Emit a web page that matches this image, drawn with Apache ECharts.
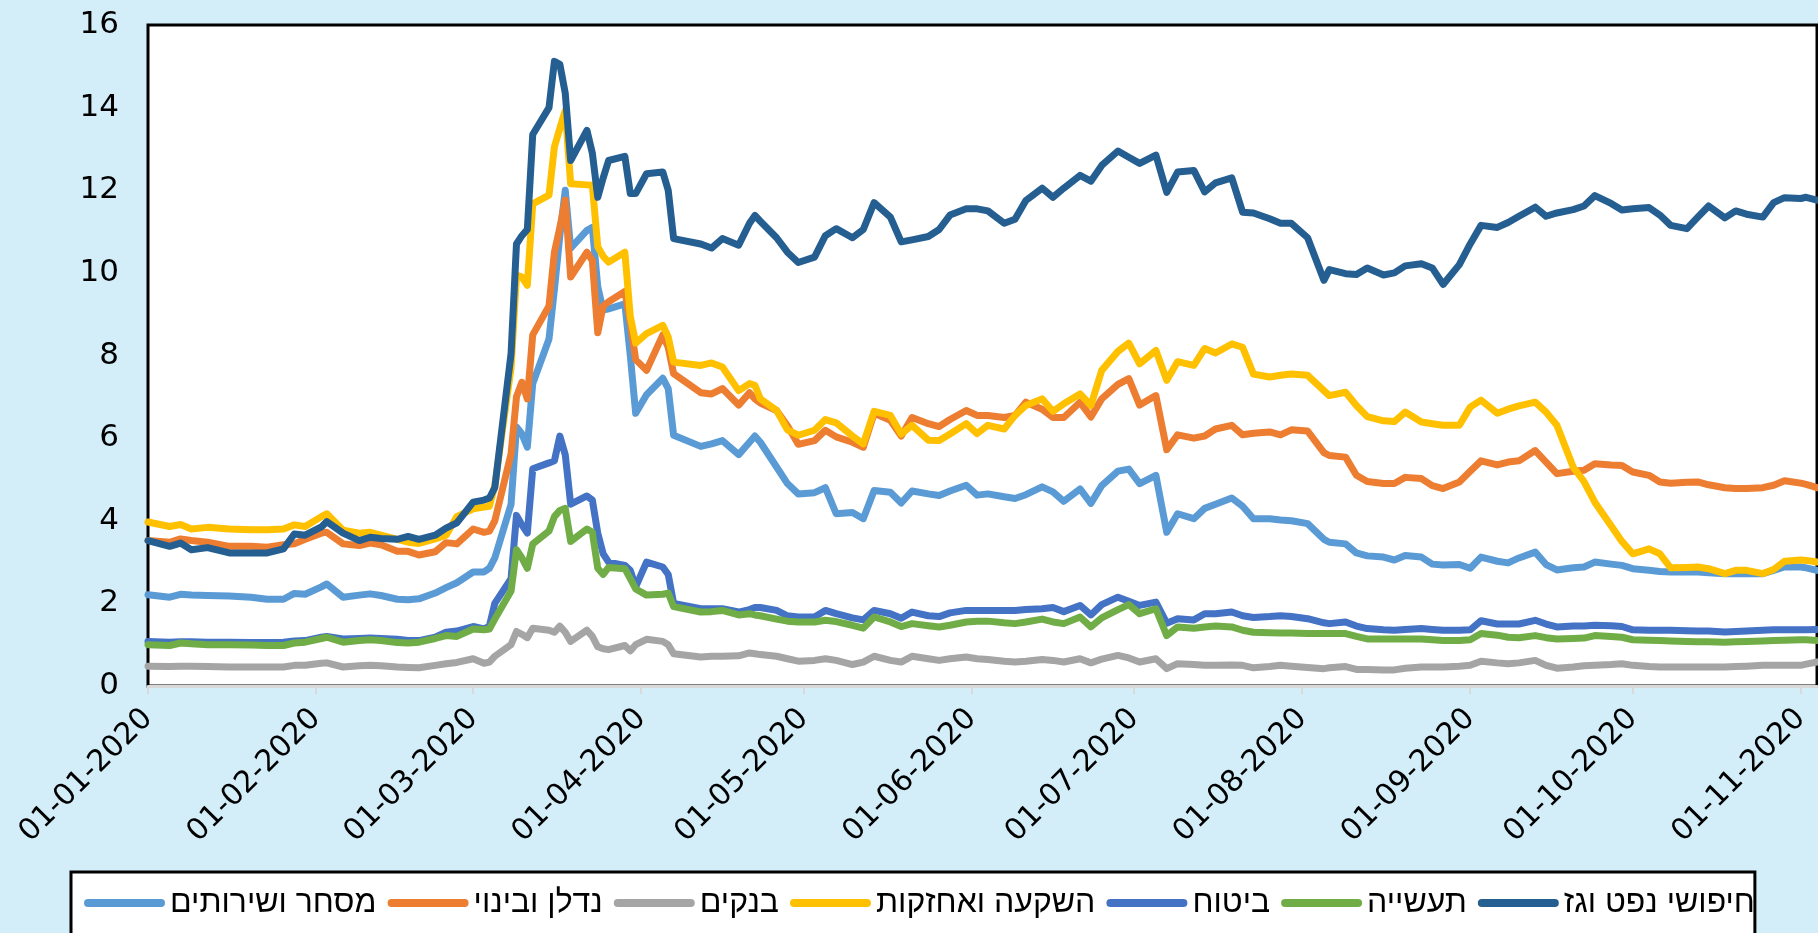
<!DOCTYPE html>
<html>
<head>
<meta charset="utf-8">
<script src="https://cdn.jsdelivr.net/npm/echarts@6/dist/echarts.min.js"></script>
<style>
  html, body { margin: 0; padding: 0; background: #d3eef9; }
  #chart { width: 1818px; height: 933px; }
</style>
</head>
<body>
<div id="chart"></div>
<script>
var dates = [
  '2020-01-01','2020-01-05','2020-01-07','2020-01-09','2020-01-12','2020-01-16','2020-01-20','2020-01-23','2020-01-26','2020-01-28','2020-01-30',
  '2020-02-02','2020-02-03','2020-02-06','2020-02-09','2020-02-11','2020-02-13','2020-02-16','2020-02-18','2020-02-20','2020-02-23','2020-02-25','2020-02-27',
  '2020-03-01','2020-03-03','2020-03-04','2020-03-05','2020-03-08','2020-03-09','2020-03-10','2020-03-11','2020-03-12','2020-03-15','2020-03-16','2020-03-17','2020-03-18','2020-03-19','2020-03-22','2020-03-23','2020-03-24','2020-03-25','2020-03-26','2020-03-29','2020-03-30','2020-03-31',
  '2020-04-02','2020-04-05','2020-04-06','2020-04-07','2020-04-12','2020-04-14','2020-04-16','2020-04-19','2020-04-21','2020-04-22','2020-04-23','2020-04-26','2020-04-28','2020-04-30',
  '2020-05-03','2020-05-05','2020-05-07','2020-05-10','2020-05-12','2020-05-14','2020-05-17','2020-05-19','2020-05-21','2020-05-24','2020-05-26','2020-05-28','2020-05-31',
  '2020-06-02','2020-06-04','2020-06-07','2020-06-09','2020-06-11','2020-06-14','2020-06-16','2020-06-18','2020-06-21','2020-06-23','2020-06-25','2020-06-28','2020-06-30',
  '2020-07-02','2020-07-05','2020-07-07','2020-07-09','2020-07-12','2020-07-14','2020-07-16','2020-07-19','2020-07-21','2020-07-23','2020-07-26','2020-07-28','2020-07-30',
  '2020-08-02','2020-08-05','2020-08-06','2020-08-09','2020-08-11','2020-08-13','2020-08-16','2020-08-18','2020-08-20','2020-08-23','2020-08-25','2020-08-27','2020-08-30',
  '2020-09-01','2020-09-03','2020-09-06','2020-09-08','2020-09-10','2020-09-13','2020-09-15','2020-09-17','2020-09-20','2020-09-22','2020-09-24','2020-09-27','2020-09-29',
  '2020-10-01','2020-10-04','2020-10-06','2020-10-08','2020-10-11','2020-10-13','2020-10-15','2020-10-18','2020-10-20','2020-10-22','2020-10-25','2020-10-27','2020-10-29',
  '2020-11-01','2020-11-02','2020-11-04'
];

var commerce = [
  2.21,2.15,2.22,2.20,2.19,2.18,2.15,2.10,2.10,2.24,2.22,
  2.40,2.47,2.15,2.20,2.23,2.19,2.10,2.09,2.11,2.25,2.38,2.50,
  2.76,2.76,2.85,3.10,4.40,6.27,6.10,5.78,7.32,8.40,9.60,10.90,12.00,10.60,11.03,11.10,9.66,9.10,9.13,9.25,8.00,6.60,
  7.05,7.45,7.20,6.07,5.80,5.86,5.94,5.60,5.90,6.05,5.90,5.30,4.90,4.65,
  4.68,4.80,4.17,4.20,4.05,4.73,4.69,4.43,4.72,4.65,4.61,4.72,4.86,
  4.62,4.65,4.58,4.54,4.63,4.82,4.70,4.47,4.77,4.42,4.85,5.20,5.25,
  4.90,5.10,3.72,4.17,4.05,4.30,4.40,4.55,4.35,4.05,4.05,4.02,4.00,
  3.93,3.55,3.48,3.44,3.22,3.15,3.12,3.05,3.16,3.12,2.95,2.93,2.94,
  2.85,3.12,3.02,2.98,3.10,3.24,2.94,2.81,2.86,2.88,3.00,2.95,2.92,
  2.84,2.80,2.77,2.76,2.76,2.76,2.74,2.72,2.72,2.72,2.72,2.80,2.88,
  2.88,2.86,2.80
];

var realEstate = [
  3.52,3.48,3.56,3.52,3.48,3.38,3.38,3.36,3.42,3.44,3.55,
  3.70,3.72,3.44,3.40,3.46,3.42,3.26,3.26,3.17,3.25,3.47,3.44,
  3.80,3.72,3.75,4.00,5.62,7.00,7.35,6.95,8.50,9.20,10.50,11.10,11.76,9.90,10.50,10.30,8.55,9.20,9.30,9.55,8.80,7.90,
  7.64,8.50,8.20,7.56,7.10,7.07,7.20,6.80,7.10,6.95,6.85,6.67,6.30,5.85,
  5.94,6.19,6.03,5.90,5.78,6.60,6.43,6.05,6.50,6.35,6.28,6.45,6.67,
  6.55,6.55,6.50,6.55,6.87,6.70,6.50,6.50,6.87,6.51,6.95,7.30,7.44,
  6.80,7.03,5.72,6.08,6.00,6.05,6.22,6.31,6.08,6.12,6.15,6.08,6.20,
  6.17,5.65,5.58,5.54,5.10,4.95,4.90,4.90,5.05,5.02,4.85,4.78,4.94,
  5.20,5.45,5.35,5.42,5.45,5.70,5.42,5.14,5.20,5.22,5.38,5.35,5.34,
  5.18,5.10,4.94,4.91,4.93,4.94,4.87,4.80,4.78,4.78,4.80,4.86,4.97,
  4.91,4.88,4.80
];

var banks = [
  0.48,0.47,0.48,0.48,0.47,0.46,0.46,0.46,0.46,0.50,0.50,
  0.55,0.56,0.46,0.49,0.50,0.49,0.46,0.45,0.44,0.50,0.54,0.57,
  0.66,0.55,0.58,0.72,1.00,1.32,1.25,1.17,1.40,1.35,1.30,1.45,1.30,1.08,1.35,1.20,0.95,0.90,0.88,0.98,0.85,1.00,
  1.13,1.08,1.00,0.78,0.70,0.72,0.72,0.73,0.80,0.78,0.76,0.72,0.66,0.60,
  0.62,0.66,0.62,0.52,0.58,0.72,0.62,0.58,0.72,0.66,0.62,0.66,0.70,
  0.66,0.64,0.60,0.58,0.60,0.64,0.62,0.58,0.66,0.56,0.65,0.74,0.68,
  0.58,0.66,0.42,0.54,0.52,0.50,0.50,0.51,0.50,0.44,0.47,0.50,0.48,
  0.45,0.42,0.44,0.47,0.40,0.40,0.39,0.39,0.43,0.46,0.46,0.46,0.48,
  0.50,0.60,0.56,0.54,0.56,0.62,0.50,0.43,0.46,0.49,0.50,0.52,0.54,
  0.50,0.47,0.46,0.46,0.46,0.46,0.46,0.46,0.47,0.48,0.50,0.50,0.50,
  0.50,0.53,0.58
];

var investment = [
  3.97,3.86,3.91,3.80,3.84,3.80,3.78,3.78,3.80,3.90,3.86,
  4.10,4.17,3.77,3.70,3.72,3.65,3.55,3.48,3.45,3.56,3.65,4.10,
  4.29,4.33,4.35,4.85,7.70,9.95,9.90,9.70,11.67,11.88,13.05,13.50,13.93,12.16,12.13,12.12,10.63,10.40,10.26,10.50,8.95,8.30,
  8.53,8.73,8.45,7.84,7.76,7.82,7.72,7.15,7.32,7.28,6.95,6.67,6.20,6.07,
  6.19,6.45,6.37,6.05,5.86,6.65,6.55,6.10,6.31,5.95,5.94,6.10,6.35,
  6.11,6.31,6.22,6.55,6.79,6.95,6.65,6.83,7.07,6.79,7.64,8.10,8.30,
  7.80,8.12,7.40,7.85,7.76,8.17,8.06,8.28,8.20,7.55,7.48,7.52,7.55,
  7.52,7.15,7.03,7.11,6.79,6.52,6.42,6.40,6.63,6.39,6.35,6.31,6.31,
  6.75,6.92,6.60,6.70,6.78,6.87,6.63,6.31,5.30,4.95,4.45,3.88,3.50,
  3.20,3.32,3.20,2.86,2.87,2.88,2.84,2.72,2.80,2.80,2.72,2.82,3.02,
  3.05,3.04,3.00
];

var insurance = [
  1.08,1.06,1.07,1.07,1.06,1.06,1.05,1.05,1.06,1.09,1.10,
  1.18,1.20,1.14,1.15,1.16,1.15,1.13,1.10,1.10,1.18,1.30,1.33,
  1.44,1.38,1.45,2.00,2.60,4.13,3.90,3.70,5.26,5.40,5.45,6.05,5.60,4.40,4.60,4.50,3.70,3.20,3.00,2.92,2.80,2.40,
  3.00,2.88,2.70,2.00,1.87,1.87,1.87,1.79,1.85,1.90,1.90,1.83,1.70,1.67,
  1.67,1.83,1.75,1.65,1.60,1.83,1.75,1.64,1.79,1.70,1.68,1.77,1.83,
  1.83,1.83,1.83,1.83,1.85,1.87,1.90,1.80,1.95,1.72,1.97,2.15,2.05,
  1.95,2.03,1.52,1.63,1.60,1.75,1.75,1.79,1.70,1.66,1.68,1.70,1.68,
  1.63,1.53,1.51,1.55,1.45,1.39,1.36,1.35,1.37,1.39,1.37,1.35,1.35,
  1.36,1.58,1.50,1.50,1.50,1.59,1.50,1.43,1.45,1.45,1.47,1.46,1.44,
  1.36,1.35,1.35,1.35,1.34,1.33,1.33,1.31,1.32,1.33,1.35,1.36,1.36,
  1.36,1.36,1.37
];

var industry = [
  1.00,0.98,1.04,1.02,1.00,1.00,0.99,0.98,0.98,1.04,1.06,
  1.15,1.18,1.06,1.10,1.12,1.10,1.05,1.04,1.06,1.15,1.22,1.20,
  1.38,1.36,1.38,1.62,2.30,3.30,3.10,2.85,3.44,3.75,4.10,4.25,4.30,3.50,3.80,3.72,2.85,2.70,2.87,2.84,2.60,2.35,
  2.20,2.22,2.25,1.92,1.79,1.80,1.83,1.72,1.75,1.72,1.70,1.62,1.57,1.55,
  1.55,1.59,1.56,1.47,1.40,1.67,1.55,1.44,1.51,1.46,1.43,1.47,1.55,
  1.57,1.57,1.53,1.51,1.55,1.62,1.55,1.51,1.67,1.43,1.65,1.85,1.97,
  1.75,1.87,1.22,1.43,1.40,1.43,1.45,1.43,1.35,1.30,1.29,1.28,1.28,
  1.27,1.27,1.27,1.27,1.20,1.14,1.14,1.14,1.14,1.14,1.12,1.10,1.10,
  1.12,1.27,1.23,1.18,1.17,1.22,1.17,1.14,1.15,1.16,1.22,1.20,1.18,
  1.12,1.11,1.10,1.09,1.08,1.07,1.07,1.06,1.07,1.08,1.09,1.10,1.11,
  1.12,1.12,1.10
];

var oilGas = [
  3.52,3.38,3.46,3.30,3.35,3.22,3.22,3.22,3.32,3.68,3.65,
  3.85,3.98,3.70,3.52,3.60,3.57,3.55,3.62,3.55,3.65,3.82,3.95,
  4.45,4.50,4.55,4.80,8.05,10.70,10.90,11.05,13.35,14.00,15.12,15.05,14.35,12.72,13.45,12.90,11.83,12.30,12.72,12.82,11.92,11.92,
  12.40,12.44,12.00,10.83,10.70,10.60,10.83,10.67,11.20,11.39,11.25,10.85,10.50,10.25,
  10.38,10.90,11.07,10.85,11.05,11.70,11.35,10.75,10.80,10.88,11.05,11.40,11.55,
  11.55,11.50,11.20,11.30,11.75,12.05,11.83,12.05,12.36,12.22,12.60,12.95,12.80,
  12.65,12.85,11.95,12.44,12.48,11.96,12.18,12.30,11.47,11.45,11.31,11.20,11.20,
  10.85,9.82,10.08,9.98,9.96,10.12,9.95,10.00,10.17,10.22,10.12,9.72,10.20,
  10.70,11.15,11.10,11.22,11.37,11.59,11.37,11.45,11.53,11.62,11.87,11.68,11.52,
  11.55,11.58,11.40,11.15,11.07,11.35,11.62,11.33,11.50,11.42,11.35,11.70,11.82,
  11.80,11.83,11.76
];

var names = ['מסחר ושירותים','נדלן ובינוי','בנקים','השקעה ואחזקות','ביטוח','תעשייה','חיפושי נפט וגז'];
var colors = ['#5b9bd5','#ed7d31','#a5a5a5','#ffc000','#4472c4','#70ad47','#255e91'];
var values = [commerce, realEstate, banks, investment, insurance, industry, oilGas];

function toTime(s){
  var p = s.split('-');
  return new Date(+p[0], +p[1] - 1, +p[2]).getTime();
}
// month starts for ticks and labels
var monthStarts = [];
for (var m = 0; m <= 10; m++) {
  monthStarts.push(new Date(2020, m, 1).getTime());
}
function pad(n){ return n < 10 ? '0' + n : '' + n; }

var series = names.map(function(name, k){
  return {
    name: name,
    type: 'line',
    showSymbol: false,
    symbol: 'none',
    animation: false,
    lineStyle: { width: 7, color: colors[k], cap: 'round', join: 'round' },
    itemStyle: { color: colors[k] },
    emphasis: { disabled: true },
    data: dates.map(function(d, i){ return [toTime(d), values[k][i]]; })
  };
});

var chart = echarts.init(document.getElementById('chart'));
chart.setOption({
  backgroundColor: '#d3eef9',
  animation: false,
  grid: {
    left: 148, top: 25, right: 1, bottom: 247,
    show: true, backgroundColor: '#ffffff', borderColor: '#000000', borderWidth: 3
  },
  xAxis: {
    type: 'value',
    min: new Date(2020, 0, 1).getTime(),
    max: new Date(2020, 10, 4).getTime(),
    axisLine: { show: true, lineStyle: { color: '#d9d9d9', width: 3 } },
    axisTick: { show: true, length: 8, lineStyle: { color: '#d9d9d9', width: 2 }, customValues: monthStarts },
    splitLine: { show: false },
    axisLabel: {
      rotate: 45, margin: 28, color: '#000', fontSize: 30, fontFamily: 'DejaVu Sans',
      customValues: monthStarts,
      formatter: function(v){
        var d = new Date(v);
        return pad(d.getDate()) + '-' + pad(d.getMonth() + 1) + '-' + d.getFullYear();
      }
    }
  },
  yAxis: {
    type: 'value', min: 0, max: 16, interval: 2,
    axisLine: { show: false },
    axisTick: { show: false },
    splitLine: { show: false },
    axisLabel: { margin: 29, color: '#000', fontSize: 31, fontFamily: 'DejaVu Sans' }
  },
  legend: {
    data: names,
    left: 71, top: 872,
    orient: 'horizontal',
    padding: [15, 0, 40, 13],
    itemGap: 11,
    itemWidth: 81, itemHeight: 8,
    icon: 'path://M4,0 H77 A4,4 0 0 1 77,8 H4 A4,4 0 0 1 4,0 Z',
    backgroundColor: '#ffffff', borderColor: '#000000', borderWidth: 3,
    textStyle: { fontSize: 32, color: '#000', fontFamily: 'Liberation Sans' }
  },
  series: series
});
</script>
</body>
</html>
